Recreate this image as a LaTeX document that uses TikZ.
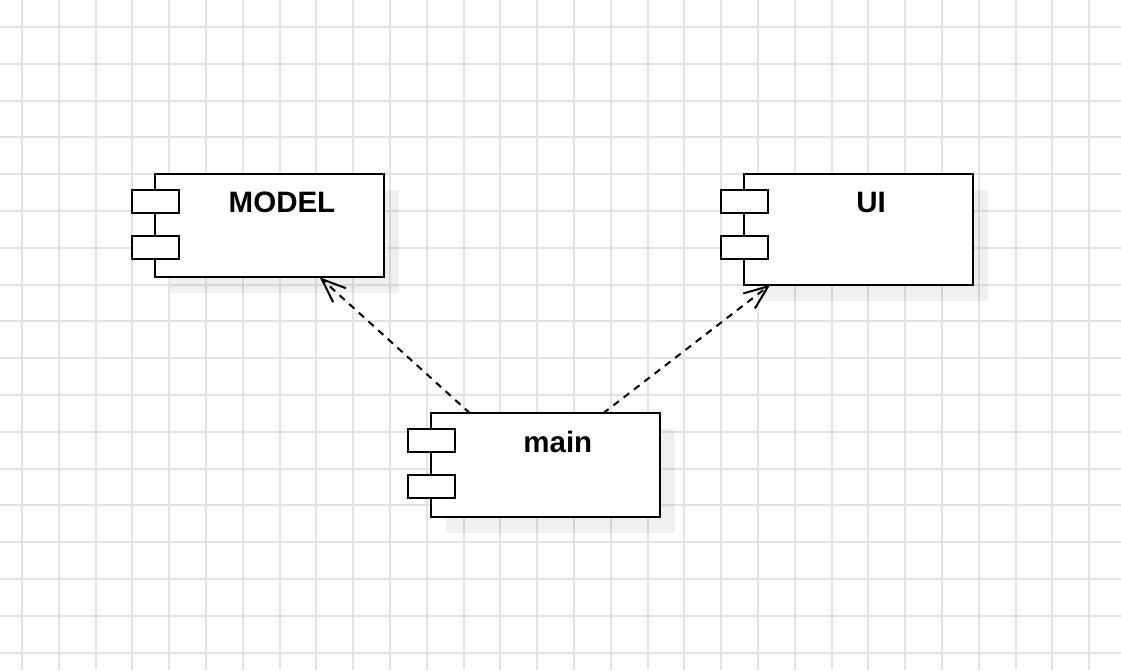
\documentclass[tikz,border=0pt]{standalone}
\usepackage{fontspec}
\setmainfont{Liberation Sans}
\usetikzlibrary{arrows.meta,calc,shadows}

\tikzset{
	gridline/.style={line width=2pt, color=black!11},
	comp/.style={draw, line width=2pt, fill=white, rectangle, inner sep=0pt, minimum width=229.5pt,
		drop shadow={shadow xshift=15pt, shadow yshift=-16pt, fill=black, opacity=0.06}},
	port/.style={draw, line width=2pt, fill=white, rectangle, inner sep=0pt, minimum width=47pt, minimum height=23pt},
	title/.style={font=\fontsize{29.5}{35}\selectfont\bfseries, anchor=base, inner sep=0pt},
	dep/.style={line width=2pt, dash pattern=on 7pt off 6pt, -{Straight Barb[length=24pt,width=19pt]}}
}

\begin{document}
\begin{tikzpicture}[x=1pt,y=-1pt]
		\useasboundingbox (0,0) rectangle (1121,670);
		\fill[white] (0,0) rectangle (1121,670);
		% background grid
		\foreach \x in {0,...,29}
			\draw[gridline] ({22+36.8*\x},0) -- ({22+36.8*\x},670);
		\foreach \y in {0,...,17}
			\draw[gridline] (0,{27+36.8*\y}) -- (1121,{27+36.8*\y});
		% components
		\node[comp, minimum height=103pt] (model) at (269.5,225.8) {};
		\node[comp, minimum height=110.4pt] (ui) at (858.5,229.5) {};
		\node[comp, minimum height=103.7pt] (main) at (545.3,465.2) {};
		\foreach \c in {model,ui,main} {
			\node[port] (\c-p1) at ($(\c.north west)+(1.5,28.5)$) {};
			\node[port] (\c-p2) at ($(\c.north west)+(1.5,74.2)$) {};
		}
		\node[title] (model-t) at ($(model.north)+(12.5,39.5)$) {MODEL};
		\node[title] (ui-t) at ($(ui.north)+(12.5,39.5)$) {UI};
		\node[title] (main-t) at ($(main.north)+(12.5,40)$) {main};
		% dependencies
		\coordinate (main-l) at ($(main.north west)+(40.5,1)$);
		\coordinate (main-r) at ($(main.north west)+(173.5,1)$);
		\coordinate (model-in) at ($(model.south west)+(166,-1)$);
		\coordinate (ui-in) at ($(ui.south west)+(27.5,-1)$);
		\draw[dep] (main-l) -- (model-in);
		\draw[dep] (main-r) -- (ui-in);
	\end{tikzpicture}
\end{document}
